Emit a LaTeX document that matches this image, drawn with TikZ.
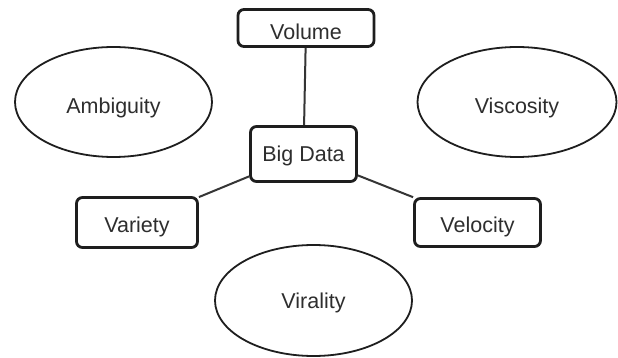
\documentclass[tikz,border=0pt]{standalone}
\usepackage{fontspec}
\setmainfont{Liberation Sans}
\usetikzlibrary{shapes.geometric}
\definecolor{ink}{HTML}{1E1E1E}
\definecolor{txt}{HTML}{2E2E2E}
\tikzset{
  vbox/.style={draw=ink, line width=2.8pt, rounded corners=6pt, fill=white,
    inner sep=0pt, text=txt, text depth=0pt,
    font=\fontsize{21.5}{25}\selectfont},
  vellipse/.style={ellipse, draw=ink, line width=1.8pt, fill=white,
    inner sep=0pt, text=txt, text depth=0pt,
    font=\fontsize{21.5}{25}\selectfont},
  link/.style={draw=ink!90, line width=2pt}
}
\begin{document}
\begin{tikzpicture}[x=1pt, y=-1pt]
  \useasboundingbox[fill=white] (0,0) rectangle (618,358);

  % outer qualities (ellipses)
  \node[vellipse, minimum width=197pt, minimum height=110pt, text height=24pt]
    (amb) at (113.5,102) {Ambiguity};
  \node[vellipse, minimum width=199pt, minimum height=110pt, text height=24pt]
    (vis) at (517,102) {Viscosity};
  \node[vellipse, minimum width=197pt, minimum height=111pt, text height=15pt]
    (vir) at (313.5,300.5) {Virality};

  % core and its three V's (boxes)
  \node[vbox, minimum width=136pt, minimum height=37pt, text height=23pt]
    (vol) at (306,28) {Volume};
  \node[vbox, minimum width=106pt, minimum height=55pt, text height=15pt]
    (bd) at (303.5,154) {Big Data};
  \node[vbox, minimum width=121pt, minimum height=50pt, text height=21pt]
    (var) at (137,222.5) {Variety};
  \node[vbox, minimum width=126pt, minimum height=48pt, text height=20pt]
    (vel) at (477.5,222.5) {Velocity};

  % connectors
  \draw[link] (vol) -- (bd);
  \draw[link] (bd) -- (var);
  \draw[link] (bd) -- (vel);
\end{tikzpicture}
\end{document}
